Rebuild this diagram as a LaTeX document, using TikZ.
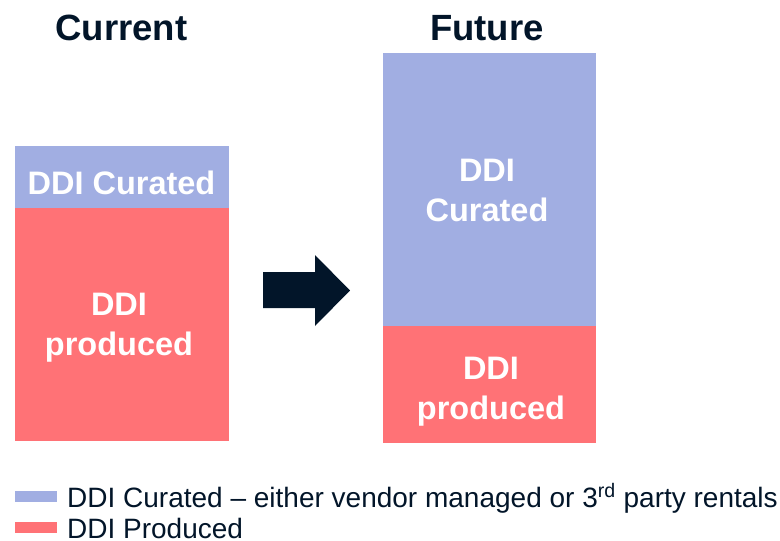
\documentclass[tikz,border=0pt]{standalone}
\usepackage{fontspec}
\setmainfont{Liberation Sans}
\usepackage{tikz}

\definecolor{curblue}{RGB}{161,174,226}
\definecolor{prodred}{RGB}{255,114,118}
\definecolor{navy}{RGB}{2,21,41}

\begin{document}
\begin{tikzpicture}[x=1pt,y=-1pt,
  title/.style={text=navy,font=\fontsize{36.5}{42}\selectfont\bfseries,inner sep=0pt},
  bar/.style={shape=rectangle,inner sep=0pt,outer sep=0pt,draw=none},
  barlabel/.style={text=white,font=\fontsize{32.5}{40}\selectfont\bfseries,align=center,inner sep=0pt},
  swatch/.style={shape=rectangle,inner sep=0pt,minimum width=42pt,minimum height=11pt},
  legendtext/.style={text=navy,font=\fontsize{28}{33}\selectfont,inner sep=0pt,anchor=base west}]
\useasboundingbox (0,0) rectangle (780,541);

\path (121.5,40) node (current) [title,anchor=base] {Current};
\path (487,40) node (future) [title,anchor=base] {Future};

\path (122,177) node (curcur) [bar,fill=curblue,minimum width=214pt,minimum height=62pt] {};
\path (122,324.5) node (curprod) [bar,fill=prodred,minimum width=214pt,minimum height=233pt] {};
\path (489.5,189.5) node (futcur) [bar,fill=curblue,minimum width=213pt,minimum height=273pt] {};
\path (489.5,384.5) node (futprod) [bar,fill=prodred,minimum width=213pt,minimum height=117pt] {};

\path (121.5,194) node (curcurtxt) [barlabel,anchor=base] {DDI Curated};
\path (119,328) node (curprodtxt) [barlabel] {DDI\\produced};
\path (487,190) node (futcurtxt) [barlabel] {DDI\\Curated};
\path (491,392) node (futprodtxt) [barlabel] {DDI\\produced};

\fill [navy] (263,272) -- (315,272) -- (315,255) -- (350,290.5) -- (315,326) -- (315,308) -- (263,308) -- cycle;

\path (36,496.5) node (keycur) [swatch,fill=curblue] {};
\path (36,527.5) node (keyprod) [swatch,fill=prodred] {};
\path (67,507) node (keycurtxt) [legendtext] {DDI Curated -- either vendor managed or 3\textsuperscript{rd} party rentals};
\path (67,538.5) node (keyprodtxt) [legendtext] {DDI Produced};
\end{tikzpicture}
\end{document}
